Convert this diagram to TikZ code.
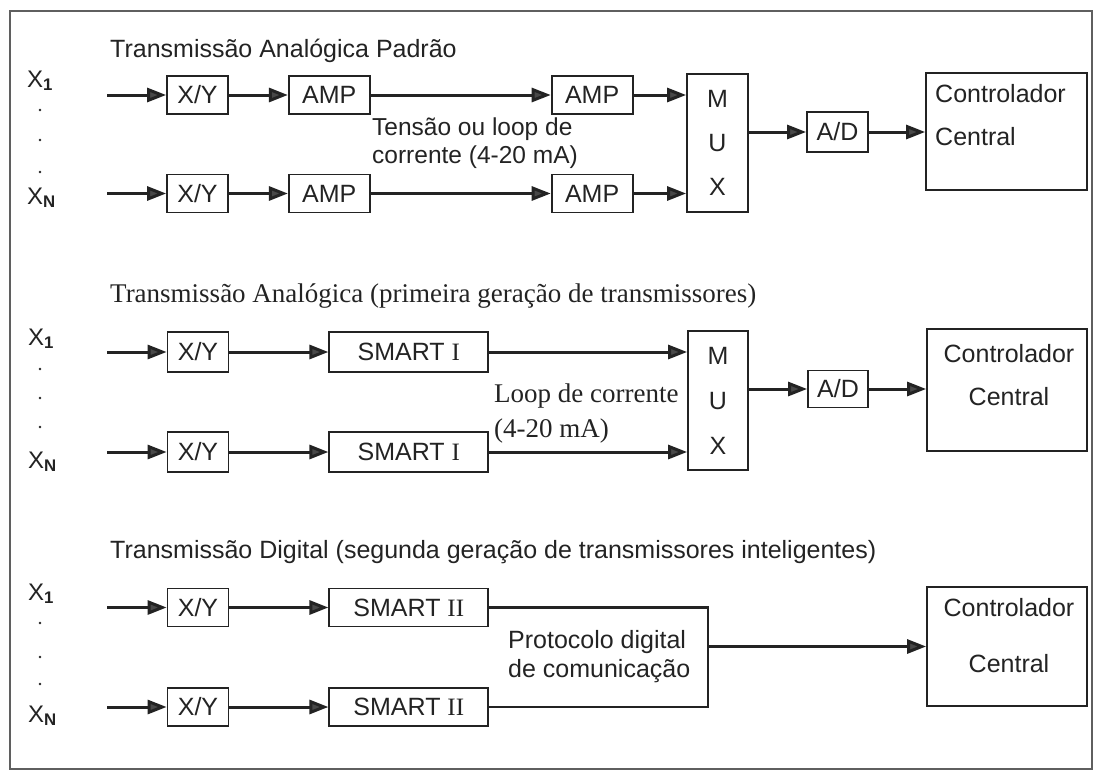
\documentclass[tikz,border=0pt]{standalone}
\usepackage{fontspec}
\setmainfont{Liberation Sans}
\newfontfamily\serifrm{Liberation Serif}
\usetikzlibrary{arrows.meta, positioning}
\definecolor{ink}{RGB}{35,35,35}
\definecolor{tipgray}{RGB}{72,72,72}
\definecolor{framegray}{RGB}{95,95,95}

\begin{document}
\begin{tikzpicture}[x=1pt, y=-1pt, font=\fontsize{25}{30}\selectfont, text=ink,
    b/.style={draw=ink, line width=1.8pt, inner sep=0pt, minimum width=61pt, minimum height=38pt},
    wide/.style={b, minimum width=159pt},
    mx/.style={b, align=center, minimum width=61pt, minimum height=138pt, font=\fontsize{25}{44}\selectfont},
    ctl/.style={b, minimum width=160pt, minimum height=118pt},
    arr/.style={ink, line width=3pt, -{Triangle[length=19pt, width=14pt, fill=tipgray]}},
    txt/.style={anchor=base west, inner sep=0pt, align=left},
    xs/.style={anchor=base west, inner sep=0pt, font=\fontsize{24}{28}\selectfont}]
    \useasboundingbox (0,0) rectangle (1096,771);
    \draw[framegray, line width=1.5pt] (10,11) rectangle (1092,769);

    % analogica padrao
    \node[txt] (tit1) at (110,57) {Transmissão Analógica Padrão};
    \node[xs] (x1a) at (27,87) {X\textsubscript{\textbf{1}}};
    \node[xs] (x1b) at (27,204) {X\textsubscript{\textbf{N}}};
    \foreach \y in {110,140,172} \fill[ink] (40,\y) circle (1.3);
    \coordinate (in1a) at (107,95);
    \coordinate (in1b) at (107,193.5);
    \node[b] (xy1a) at (197.5,95) {X/Y};
    \node[b, minimum width=81pt, right=59pt of xy1a] (amp1a) {AMP};
    \node[b, minimum width=81pt, right=180pt of amp1a] (amp2a) {AMP};
    \node[b] (xy1b) at (197.5,193.5) {X/Y};
    \node[b, minimum width=81pt, right=59pt of xy1b] (amp1b) {AMP};
    \node[b, minimum width=81pt, right=180pt of amp1b] (amp2b) {AMP};
    \node[mx] (mux1) at (717.5,143) {M\\U\\X};
    \node[b, minimum height=40pt] (ad1) at (837.5,132) {A/D};
    \node[ctl, minimum width=161pt, minimum height=117pt] (ctrl1) at (1006.5,131.5) {};
    \node[txt, font=\fontsize{25}{43}\selectfont] (c1t) at (935,145) {Controlador\\Central};
    \node[txt, font=\fontsize{24.5}{28}\selectfont] (lbl1) at (372,163) {Tensão ou loop de\\corrente (4-20 mA)};
    \draw[arr] (in1a) -- (xy1a);
    \draw[arr] (xy1a) -- (amp1a);
    \draw[arr] (amp1a) -- (amp2a);
    \draw[arr] (amp2a) -- (amp2a -| mux1.west);
    \draw[arr] (in1b) -- (xy1b);
    \draw[arr] (xy1b) -- (amp1b);
    \draw[arr] (amp1b) -- (amp2b);
    \draw[arr] (amp2b) -- (amp2b -| mux1.west);
    \draw[arr] (mux1.east |- ad1) -- (ad1);
    \draw[arr] (ad1) -- (ad1 -| ctrl1.west);

    % primeira geracao
    \node[txt, font=\serifrm\fontsize{27}{32}\selectfont] (tit2) at (110,302) {Transmissão Analógica (primeira geração de transmissores)};
    \node[xs] (x2a) at (28,345) {X\textsubscript{\textbf{1}}};
    \node[xs] (x2b) at (28,468) {X\textsubscript{\textbf{N}}};
    \foreach \y in {369,398,427} \fill[ink] (40,\y) circle (1.3);
    \coordinate (in2a) at (107,352);
    \coordinate (in2b) at (107,452);
    \node[b, minimum height=40pt] (xy2a) at (198,352) {X/Y};
    \node[wide, minimum height=40pt, right=99pt of xy2a] (sm1a) {SMART {\serifrm I}};
    \node[b, minimum height=40pt] (xy2b) at (198,452) {X/Y};
    \node[wide, minimum height=40pt, right=99pt of xy2b] (sm1b) {SMART {\serifrm I}};
    \node[mx, minimum width=60pt, minimum height=139pt, font=\fontsize{25}{45}\selectfont] (mux2) at (718,400.5) {M\\U\\X};
    \node[b, minimum width=60pt, minimum height=37pt] (ad2) at (838,389) {A/D};
    \node[ctl, minimum height=122pt] (ctrl2) at (1007,390) {};
    \node[txt, anchor=base, align=center, font=\fontsize{25}{43}\selectfont] (c2t) at (1009,405) {Controlador\\Central};
    \node[txt, font=\serifrm\fontsize{27}{35}\selectfont] (lbl2) at (494,437) {Loop de corrente\\(4-20 mA)};
    \draw[arr] (in2a) -- (xy2a);
    \draw[arr] (xy2a) -- (sm1a);
    \draw[arr] (sm1a) -- (sm1a -| mux2.west);
    \draw[arr] (in2b) -- (xy2b);
    \draw[arr] (xy2b) -- (sm1b);
    \draw[arr] (sm1b) -- (sm1b -| mux2.west);
    \draw[arr] (mux2.east |- ad2) -- (ad2);
    \draw[arr] (ad2) -- (ad2 -| ctrl2.west);

    % digital
    \node[txt] (tit3) at (110,558) {Transmissão Digital (segunda geração de transmissores inteligentes)};
    \node[xs] (x3a) at (28,600) {X\textsubscript{\textbf{1}}};
    \node[xs] (x3b) at (28,722) {X\textsubscript{\textbf{N}}};
    \foreach \y in {623,657,684} \fill[ink] (40,\y) circle (1.3);
    \coordinate (in3a) at (107,607.5);
    \coordinate (in3b) at (107,707);
    \node[b] (xy3a) at (198,607.5) {X/Y};
    \node[wide, right=99pt of xy3a] (sm2a) {SMART {\serifrm II}};
    \node[b] (xy3b) at (198,707) {X/Y};
    \node[wide, right=99pt of xy3b] (sm2b) {SMART {\serifrm II}};
    \coordinate (pe) at (708,657);
    \node[txt, font=\fontsize{25}{29}\selectfont] (proto) at (508,677) {Protocolo digital\\de comunicação};
    \node[ctl, minimum height=119pt] (ctrl3) at (1007,646.5) {};
    \node[txt, anchor=base, align=center, font=\fontsize{25}{56}\selectfont] (c3t) at (1009,672) {Controlador\\Central};
    \draw[arr] (in3a) -- (xy3a);
    \draw[arr] (xy3a) -- (sm2a);
    \draw[arr] (in3b) -- (xy3b);
    \draw[arr] (xy3b) -- (sm2b);
    \draw[ink, line width=2.6pt] (sm2a.east) -| (pe) |- (sm2b.east);
    \draw[arr] (pe |- ctrl3) -- (ctrl3);
\end{tikzpicture}
\end{document}
